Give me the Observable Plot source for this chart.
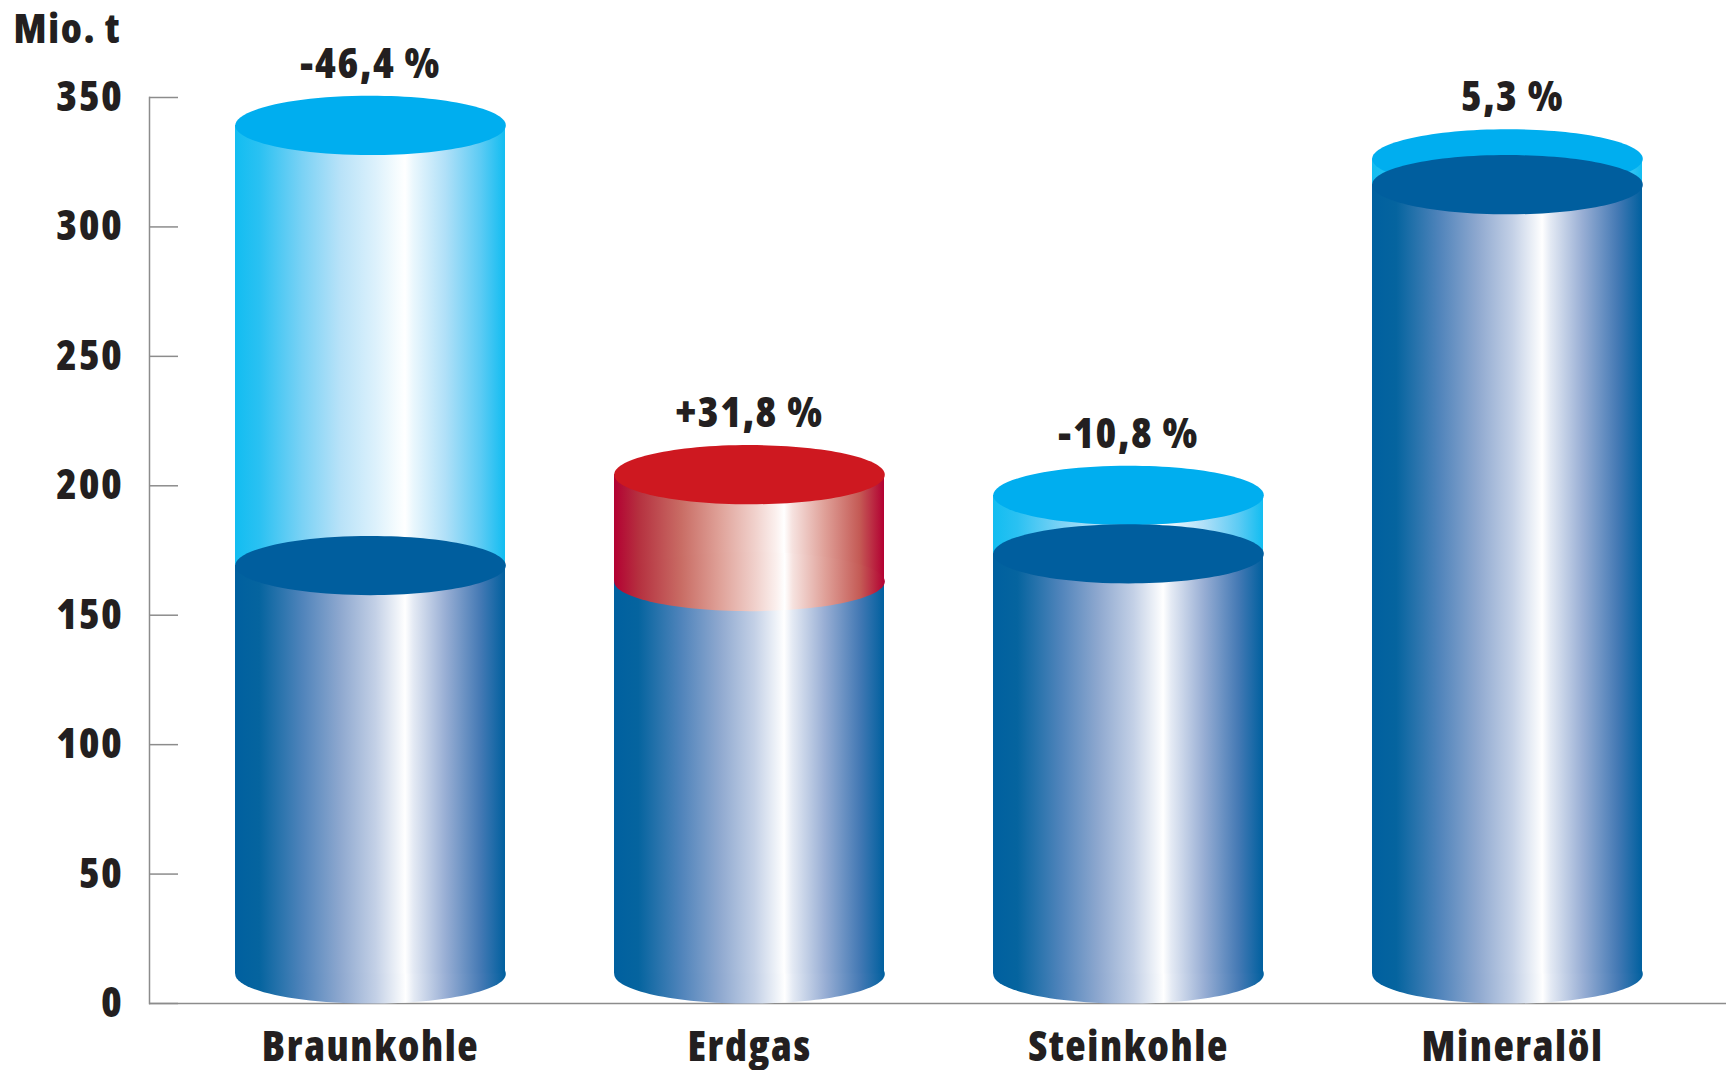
<!DOCTYPE html>
<html lang="de">
<head>
<meta charset="utf-8">
<title>Energieträger</title>
<script src="https://cdn.jsdelivr.net/npm/d3@7"></script>
<script src="https://cdn.jsdelivr.net/npm/@observablehq/plot@0.6"></script>
<style>
html,body{margin:0;padding:0;background:#fff;}
#chart svg{display:block;max-width:none;}
#chart svg text{font-stretch:75%;letter-spacing:1.6px;}
</style>
</head>
<body>
<div id="chart"></div>
<script>
const categories = ["Braunkohle", "Erdgas", "Steinkohle", "Mineralöl"];
const lowerValues = [169.2, 163, 173.7, 316.3];
const upperValues = [339.2, 204.3, 196.3, 326.3];
const changeLabels = ["-46,4 %", "+31,8 %", "-10,8 %", "5,3 %"];
const yTicks = [0, 50, 100, 150, 200, 250, 300, 350];
const footLevel = 11.4;
const unitLabel = "Mio. t";

const rows = categories.map((c, i) => ({
  category: c, lower: lowerValues[i], upper: upperValues[i], change: changeLabels[i], foot: footLevel
}));
const declining = rows.filter(d => d.category !== "Erdgas");
const rising = rows.filter(d => d.category === "Erdgas");

const FONT = "'Open Sans', sans-serif";
const INK = "#231f20";
const AXIS = "#8c8c8c";
const SIZE = 42;
const offsets = [0, .09, .25, .39, .52, .6, .63, .66, .78, .91, 1];
const ramps = {
  gBlue:  ["#00609f","#05649f","#5084bb","#8ea8cf","#c3d0e6","#eef2f8","#ffffff","#e4eaf4","#98aed4","#4479b4","#00609f"],
  gLight: ["#12bdf1","#2ac1f2","#7bd2f5","#b8e2f8","#dcf1fc","#f6fcfe","#ffffff","#eaf7fd","#b0e0f8","#5ccbf4","#12bdf1"],
  gRed:   ["#b30032","#b5303f","#c96d65","#dfa198","#f0d0cb","#fbf0ee","#ffffff","#f6e2df","#dfa098","#c45a55","#b30032"]
};
function defs() {
  const d = d3.create("svg:defs");
  for (const [id, colors] of Object.entries(ramps)) {
    const g = d.append("linearGradient").attr("id", id).attr("x1", 0).attr("x2", 1).attr("y1", 0).attr("y2", 0);
    colors.forEach((c, i) => g.append("stop").attr("offset", offsets[i]).attr("stop-color", c));
  }
  return d.node();
}
// An ellipse as a Plot symbol: the dot's r is the half width of the cylinder.
const ellipse = {
  draw(ctx, size) {
    const rx = Math.sqrt(size / Math.PI), ry = rx * 0.219, k = 0.5523;
    ctx.moveTo(-rx, 0);
    ctx.bezierCurveTo(-rx, -k * ry, -k * rx, -ry, 0, -ry);
    ctx.bezierCurveTo(k * rx, -ry, rx, -k * ry, rx, 0);
    ctx.bezierCurveTo(rx, k * ry, k * rx, ry, 0, ry);
    ctx.bezierCurveTo(-k * rx, ry, -rx, k * ry, -rx, 0);
    ctx.closePath();
  }
};
const R = 135.3;
const disc = (data, y, fill) => Plot.dot(data, {x: "category", y, r: R, symbol: ellipse, fill, stroke: "none"});
const body = (data, y1, y2, fill) => Plot.barY(data, {x: "category", y1, y2, fill});

const chart = Plot.plot({
  width: 1726,
  height: 1070,
  marginLeft: 149,
  marginRight: 0,
  marginTop: 97,
  marginBottom: 67,
  style: {background: "#fff", fontFamily: FONT, overflow: "visible"},
  x: {domain: categories, paddingInner: 0.2863, paddingOuter: 0.222, align: 0.508, label: null},
  y: {domain: [0, 350], label: null},
  marks: [
    defs,
    Plot.frame({anchor: "left", stroke: AXIS, strokeWidth: 1.5}),
    Plot.ruleY([0], {stroke: AXIS, strokeWidth: 1.5}),
    Plot.axisY({
      ticks: yTicks, tickSize: -29, tickPadding: 55, stroke: AXIS, strokeWidth: 1.5, fill: INK,
      fontSize: SIZE, fontWeight: 800, tickFormat: d => String(d), label: null
    }),
    Plot.axisX(categories.slice(0, 3), {
      tickSize: 0, tickPadding: 28, fill: INK, fontSize: SIZE, fontWeight: 800, label: null
    }),
    Plot.axisX(categories.slice(3), {
      tickSize: 0, tickPadding: 28, dx: 5, fill: INK, fontSize: SIZE, fontWeight: 800, label: null
    }),
    // declines: former size behind, current size in front
    body(declining, "foot", "upper", "url(#gLight)"),
    disc(declining, "upper", "#00aeef"),
    disc(declining, "foot", "url(#gBlue)"),
    body(declining, "foot", "lower", "url(#gBlue)"),
    disc(declining, "lower", "#005e9e"),
    // rise: former size below, growth on top
    disc(rising, "foot", "url(#gBlue)"),
    body(rising, "foot", "lower", "url(#gBlue)"),
    body(rising, "lower", "upper", "url(#gRed)"),
    disc(rising, "lower", "url(#gRed)"),
    disc(rising, "upper", "#ce1820"),
    Plot.text(rows.slice(0, 3), {
      x: "category", y: "upper", text: "change", dy: -61, fill: INK,
      fontSize: SIZE, fontWeight: 800
    }),
    Plot.text(rows.slice(3), {
      x: "category", y: "upper", text: "change", dy: -61, dx: 5, fill: INK,
      fontSize: SIZE, fontWeight: 800
    }),
    Plot.text([unitLabel], {
      frameAnchor: "top-left", dx: -136, dy: -84, textAnchor: "start", fill: INK,
      fontSize: 41, fontWeight: 800
    })
  ]
});
document.getElementById("chart").append(chart);
</script>
</body>
</html>
